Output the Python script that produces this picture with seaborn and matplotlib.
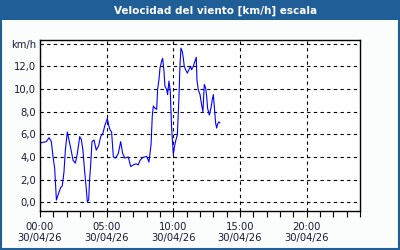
import matplotlib
matplotlib.use("Agg")
import matplotlib.pyplot as plt
from matplotlib.patches import Rectangle
import seaborn as sns
import pandas as pd

hours = [0.0, 0.1, 0.47, 0.68, 0.85, 0.98, 1.1, 1.23, 1.4, 1.55, 1.67, 1.8, 1.9, 2.05,
         2.2, 2.35, 2.48, 2.65, 2.8, 2.98, 3.1, 3.22, 3.35, 3.47, 3.55, 3.65, 3.72,
         3.8, 3.9, 4.05, 4.22, 4.4, 4.55, 4.72, 4.87, 5.05, 5.17, 5.25, 5.37, 5.5,
         5.67, 5.87, 6.05, 6.2, 6.37, 6.62, 6.8, 7.0, 7.2, 7.37, 7.5, 7.7, 8.0, 8.17,
         8.33, 8.42, 8.5, 8.62, 8.75, 8.82, 8.92, 9.0, 9.12, 9.2, 9.3, 9.37, 9.5,
         9.57, 9.67, 9.77, 9.87, 10.0, 10.07, 10.17, 10.3, 10.42, 10.5, 10.57, 10.67,
         10.75, 10.82, 10.92, 11.05, 11.17, 11.3, 11.37, 11.5, 11.62, 11.72, 11.77,
         11.87, 12.0, 12.12, 12.22, 12.32, 12.42, 12.5, 12.57, 12.7, 12.82, 12.92,
         13.0, 13.07, 13.17, 13.25, 13.32, 13.42, 13.5]
speed = [5.3, 5.26, 5.35, 5.7, 5.35, 4.0, 3.0, 0.2, 0.8, 1.3, 1.45, 2.7, 4.6, 6.2,
         5.35, 4.5, 3.7, 3.45, 4.3, 5.8, 5.55, 4.6, 2.7, 1.2, 0.05, 0.2, 2.0,
         3.3, 5.35, 5.5, 4.6, 5.0, 5.8, 6.1, 6.8, 7.4, 6.7, 6.4, 6.2, 4.0,
         3.9, 4.3, 5.35, 4.3, 3.9, 4.0, 3.15, 3.3, 3.4, 3.3, 3.7, 3.95, 4.05, 3.55,
         5.1, 7.6, 8.5, 8.3, 8.2, 9.95, 10.8, 11.85, 12.45, 12.7, 11.55, 10.25, 9.95,
         9.5, 10.7, 9.8, 6.55, 4.2, 4.8, 5.4, 5.95, 9.2, 12.15, 13.6, 13.3,
         12.7, 12.0, 11.7, 11.4, 11.7, 12.0, 11.7, 12.0, 12.45, 12.8, 10.8,
         9.95, 9.5, 8.6, 8.0, 10.4, 10.1, 9.35, 8.3, 7.7, 8.3, 9.05,
         9.5, 8.5, 7.0, 6.55, 6.9, 7.1, 7.0]

x_ticks = [0, 5, 10, 15, 20]
x_labels = ["00:00\n30/04/26", "05:00\n30/04/26", "10:00\n30/04/26",
            "15:00\n30/04/26", "20:00\n30/04/26"]
y_ticks = [0, 2, 4, 6, 8, 10, 12, 14]
y_labels = ["0,0", "2,0", "4,0", "6,0", "8,0", "10,0", "12,0", "km/h"]
title = "Velocidad del viento [km/h] escala"

df = pd.DataFrame({"hora": hours, "velocidad": speed})

sns.set_style("white")
plt.rcParams["font.family"] = ["DejaVu Sans"]

W, H = 400, 250
fig = plt.figure(figsize=(4, 2.5), dpi=100, facecolor="#fbfdfd")
blue = "#1f5e96"
fig.patches.append(Rectangle((0, 1 - 20 / H), 1, 20 / H, transform=fig.transFigure,
                             facecolor=blue, edgecolor="none", zorder=0))
fig.patches.append(Rectangle((1 / W, 1 / H), 1 - 2 / W, 1 - 2 / H, transform=fig.transFigure,
                             facecolor="none", edgecolor=blue, linewidth=1.5, zorder=5))
fig.text(216 / W, 1 - 10.5 / H, title, color="white", fontsize=7.5, fontweight="bold",
         ha="center", va="center")

ax = fig.add_axes([40 / W, 1 - 210.7 / H, 320 / W, 170.7 / H])
ax.set_facecolor("white")
sns.lineplot(data=df, x="hora", y="velocidad", ax=ax, color="#0000ff", linewidth=0.8)

ax.set_xlim(0, 24)
ax.set_ylim(-0.74, 14.32)
ax.set_xticks(x_ticks)
ax.set_xticklabels(x_labels)
ax.set_xticks(range(0, 25), minor=True)
ax.set_yticks(y_ticks)
ax.set_yticklabels(y_labels)
ax.set_xlabel("")
ax.set_ylabel("")
ax.grid(True, which="major", color="black", linestyle=(0, (3, 3)), linewidth=0.8)
ax.tick_params(axis="x", which="both", direction="out", length=4, width=0.8,
               colors="black", labelcolor="#1a1a3a", labelsize=7.2, pad=4, bottom=True)
ax.tick_params(axis="y", length=0, labelcolor="#1a1a3a", labelsize=7.2, pad=3)
for s in ax.spines.values():
    s.set_color("black")
    s.set_linewidth(1.0)
    s.set_visible(True)

fig.savefig("out.png", dpi=100, facecolor=fig.get_facecolor())
